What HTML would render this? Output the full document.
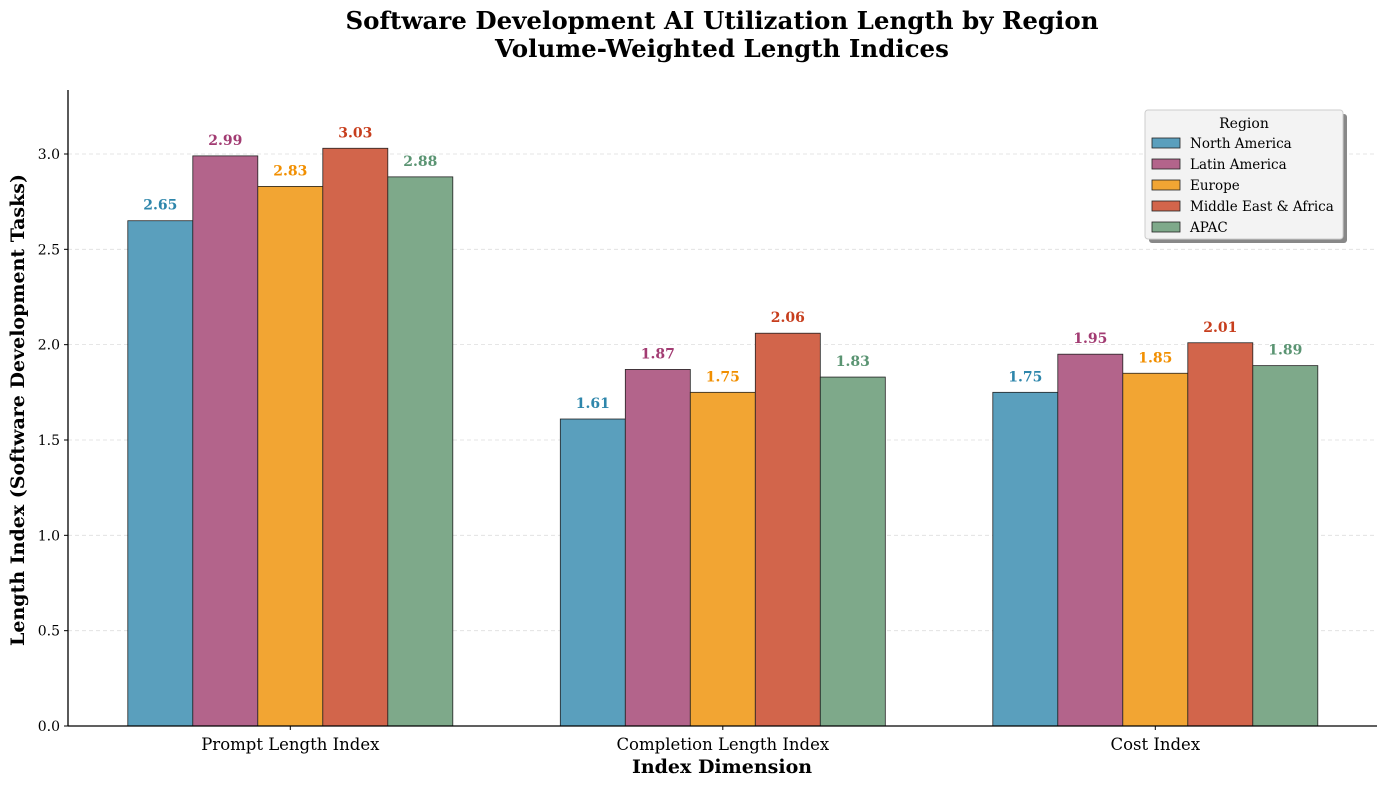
<!DOCTYPE html>
<html><head><meta charset="utf-8"><style>
body{margin:0;background:#fff;}
svg text{font-family:"DejaVu Serif","Liberation Serif",serif;}
</style></head><body>
<svg id="chart" width="1387" height="786" xmlns="http://www.w3.org/2000/svg">
<text x="722" y="29" text-anchor="middle" font-size="24.5" font-weight="bold">Software Development AI Utilization Length by Region</text>
<text x="722" y="57" text-anchor="middle" font-size="24.5" font-weight="bold">Volume-Weighted Length Indices</text>
<g id="grid"></g><g id="bars"></g><g id="axes"></g>
<text x="722" y="773" text-anchor="middle" font-size="19" font-weight="bold">Index Dimension</text>
<text transform="translate(24,410) rotate(-90)" text-anchor="middle" font-size="19" font-weight="bold">Length Index (Software Development Tasks)</text>
<g id="legend"></g>
</svg>
<script>
const categories=["Prompt Length Index","Completion Length Index","Cost Index"];
const regions=["North America","Latin America","Europe","Middle East & Africa","APAC"];
const naValues=[2.65,1.61,1.75];
const latamValues=[2.99,1.87,1.95];
const europeValues=[2.83,1.75,1.85];
const meaValues=[3.03,2.06,2.01];
const apacValues=[2.88,1.83,1.89];
const yTicks=[0,0.5,1.0,1.5,2.0,2.5,3.0];
const series=[naValues,latamValues,europeValues,meaValues,apacValues];
const fills=["#5a9fbd","#b3648b","#f2a533","#d2654b","#7ea98a"];
const labelColors=["#2E86AB","#A23B72","#F18F01","#C73E1D","#5a9472"];
const NS="http://www.w3.org/2000/svg";
const L=68,R=1377,T=90,B=726;
const yMax=(B-T)/190.67;
const y=v=>B-v/yMax*(B-T);
const xc=i=>L+(i+0.514)*432.5;
const bw=65;
function mk(tag,attrs,parent){const e=document.createElementNS(NS,tag);for(const k in attrs)e.setAttribute(k,attrs[k]);parent.appendChild(e);return e;}
const grid=document.getElementById('grid'),bars=document.getElementById('bars'),axes=document.getElementById('axes');
yTicks.forEach(t=>{
  if(t>0){const g=mk('line',{x1:L,x2:R,y1:y(t),y2:y(t),stroke:'#ddd','stroke-dasharray':'4,3','stroke-width':0.8},grid);
  
  }
  const tk=mk('line',{x1:L-4,x2:L,y1:y(t),y2:y(t),stroke:'#000'},axes);
  
  
  const tl=mk('text',{x:L-8,y:y(t)+5,'text-anchor':'end','font-size':14},axes);
  tl.textContent=t.toFixed(1);
  
  
});
categories.forEach((c,i)=>{
  series.forEach((s,j)=>{
    const x0=xc(i)+(j-2.5)*bw, v=s[i];
    const r=mk('rect',{x:x0,y:y(v),width:bw,height:B-y(v),fill:fills[j],stroke:'#222','stroke-width':0.8},bars);
    
    
    const t=mk('text',{x:x0+bw/2,y:y(v)-11,'text-anchor':'middle','font-size':14,'font-weight':'bold',fill:labelColors[j]},bars);
    t.textContent=v.toFixed(2);
    
    
  });
  const tk=mk('line',{x1:xc(i),x2:xc(i),y1:B,y2:B+4,stroke:'#000'},axes);
  
  
  const tl=mk('text',{x:xc(i),y:B+24,'text-anchor':'middle','font-size':16.5},axes);
  tl.textContent=c;
  
  
});
const ax1=mk('line',{x1:L,x2:L,y1:T,y2:B,stroke:'#000','stroke-width':1.3},axes);


const ax2=mk('line',{x1:L,x2:R,y1:B,y2:B,stroke:'#000','stroke-width':1.3},axes);


const lg=document.getElementById('legend');
mk('rect',{x:1149,y:114,width:198,height:129,fill:'#888',rx:3},lg);
mk('rect',{x:1145,y:110,width:198,height:129,fill:'#f3f3f3',stroke:'#ccc',rx:3},lg);
const lt=mk('text',{x:1244,y:128,'text-anchor':'middle','font-size':14},lg);
lt.textContent='Region';
regions.forEach((r,j)=>{
  const yy=144+j*21;
  const sw=mk('rect',{x:1152,y:yy-6,width:28,height:10,fill:fills[j],stroke:'#222','stroke-width':0.8},lg);
  
  
  const t=mk('text',{x:1190,y:yy+4,'font-size':13.5},lg);
  t.textContent=r;
  
  
});
</script>
</body></html>
